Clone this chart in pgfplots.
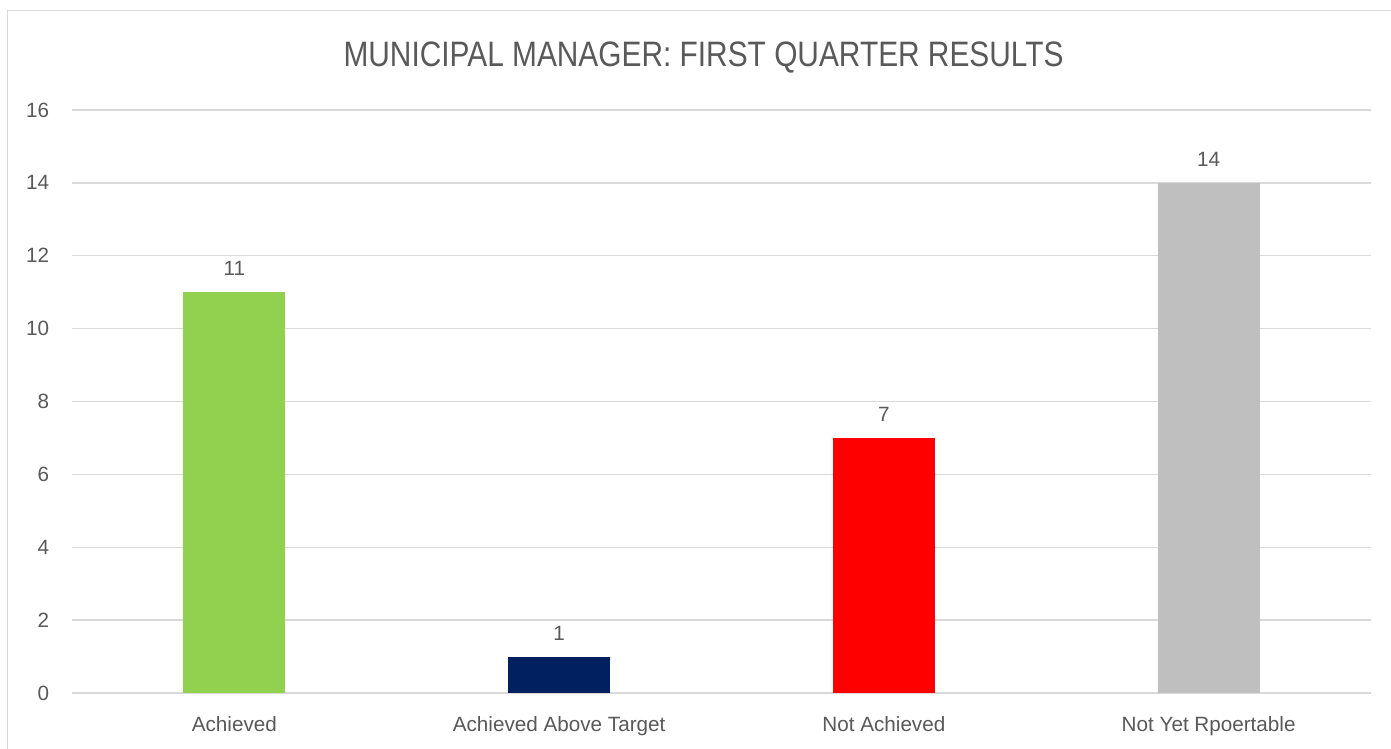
\documentclass[border=0pt]{standalone}
\usepackage{pgfplots}
\pgfplotsset{compat=1.18}
\usepackage{fontspec}
\setmainfont{Liberation Sans}
\newfontfamily\titlefont[FakeStretch=0.845]{Liberation Sans}
\definecolor{txt}{HTML}{595959}
\definecolor{gridc}{HTML}{D9D9D9}
\definecolor{cgreen}{HTML}{92D050}
\definecolor{cnavy}{HTML}{002060}
\definecolor{cred}{HTML}{FF0000}
\definecolor{cgray}{HTML}{BFBFBF}
\begin{document}
\begin{tikzpicture}[x=0.75pt,y=0.75pt]
\path[use as bounding box] (0,0) rectangle (1391,749);
\clip (0,0) rectangle (1391,749);
\fill[white] (0,0) rectangle (1391,749);
\draw[gridc, line width=1.1pt] (7.5,738.5) rectangle (1420,-30);
\node[text=txt, font=\titlefont\fontsize{26.5pt}{30pt}\selectfont, anchor=center] at (703.5,691) {MUNICIPAL MANAGER: FIRST QUARTER RESULTS};
\begin{axis}[
  at={(72*0.75pt,56*0.75pt)}, anchor=south west,
  scale only axis, width=974.25pt, height=437.25pt,
  ybar, bar width=76.5pt, bar shift=0pt,
  xmin=-0.5, xmax=3.5, ymin=0, ymax=16,
  ytick={0,2,...,16},
  xtick={0,1,2,3},
  xticklabels={Achieved, Achieved Above Target, Not Achieved, Not Yet Rpoertable},
  ymajorgrids, grid style={gridc, line width=1.1pt},
  axis line style={draw=none},
  major tick style={draw=none},
  tick label style={font=\fontsize{15.5pt}{18pt}\selectfont, text=txt, inner sep=0pt},
  yticklabel style={anchor=east, xshift=-17pt},
  xticklabel style={anchor=north, yshift=-13pt},
  /pgf/number format/assume math mode=true,
  nodes near coords,
  nodes near coords style={font=\fontsize{15.5pt}{18pt}\selectfont, text=txt, anchor=south, inner sep=0pt, yshift=12pt},
  clip=false,
]
\addplot[fill=cgreen, draw=none] coordinates {(0,11)};
\addplot[fill=cnavy, draw=none] coordinates {(1,1)};
\addplot[fill=cred, draw=none] coordinates {(2,7)};
\addplot[fill=cgray, draw=none] coordinates {(3,14)};
\end{axis}
\end{tikzpicture}
\end{document}
